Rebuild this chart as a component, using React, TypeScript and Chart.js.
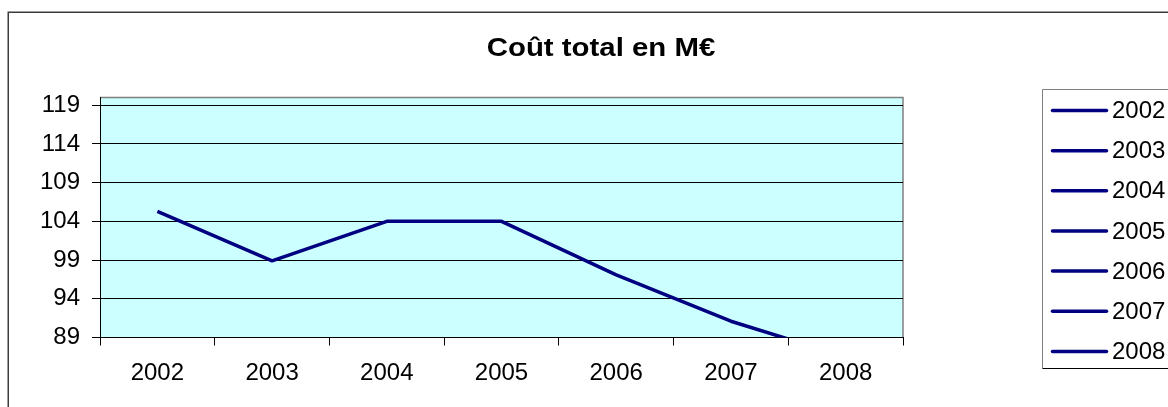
import React, { useEffect, useRef } from "react";
import { Chart, registerables } from "chart.js";

Chart.register(...registerables);

const categories = ["2002", "2003", "2004", "2005", "2006", "2007", "2008"];
const coutTotal = [105.3, 98.9, 104, 104, 97.1, 91.1, 86.5];
const yTickValues = [89, 94, 99, 104, 109, 114, 119];
const titleText = "Coût total en M€";

const FONT = '"Liberation Sans", Arial, sans-serif';
const LINE_COLOR = "#000080";

const decorPlugin = {
  id: "decor",
  beforeDraw(chart: any) {
    const { ctx, chartArea } = chart;
    ctx.save();
    // outer chart border
    ctx.strokeStyle = "#3c3c3c";
    ctx.lineWidth = 1.5;
    ctx.strokeRect(8.25, 12.25, 1400, 600);
    // plot area background
    ctx.fillStyle = "#CCFFFF";
    ctx.fillRect(chartArea.left, chartArea.top, chartArea.right - chartArea.left, chartArea.bottom - chartArea.top);
    // plot area top/right border (gray)
    ctx.strokeStyle = "#808080";
    ctx.lineWidth = 1.5;
    ctx.beginPath();
    ctx.moveTo(chartArea.left, chartArea.top);
    ctx.lineTo(chartArea.right, chartArea.top);
    ctx.lineTo(chartArea.right, chartArea.bottom);
    ctx.stroke();
    ctx.restore();
  },
  afterDraw(chart: any) {
    const { ctx } = chart;
    ctx.save();
    // title (slightly widened like the reference)
    ctx.save();
    ctx.translate(601, 49);
    ctx.scale(1.13, 1);
    ctx.fillStyle = "#000";
    ctx.font = `bold 26px ${FONT}`;
    ctx.textAlign = "center";
    ctx.textBaseline = "middle";
    ctx.fillText(titleText, 0, 0);
    ctx.restore();

    // legend box
    const boxLeft = 1042.5;
    const boxTop = 89.5;
    const boxBottom = 368.5;
    ctx.strokeStyle = "#808080";
    ctx.lineWidth = 1;
    ctx.beginPath();
    ctx.moveTo(1300, boxTop);
    ctx.lineTo(boxLeft, boxTop);
    ctx.lineTo(boxLeft, boxBottom);
    ctx.stroke();
    ctx.strokeStyle = "#000";
    ctx.beginPath();
    ctx.moveTo(boxLeft, boxBottom);
    ctx.lineTo(1300, boxBottom);
    ctx.stroke();

    const color = chart.data.datasets[0].borderColor;
    const labels = chart.data.labels as string[];
    ctx.font = `24px ${FONT}`;
    ctx.textAlign = "left";
    ctx.textBaseline = "middle";
    labels.forEach((lab, i) => {
      const y = 110.5 + i * 40.15;
      ctx.strokeStyle = color;
      ctx.lineWidth = 3.5;
      ctx.lineCap = "round";
      ctx.beginPath();
      ctx.moveTo(1052.5, y);
      ctx.lineTo(1106.5, y);
      ctx.stroke();
      ctx.fillStyle = "#000";
      ctx.fillText(lab, 1112, y + 1);
    });
    ctx.restore();
  },
};

export default function App() {
  const canvasRef = useRef<HTMLCanvasElement | null>(null);

  useEffect(() => {
    const canvas = canvasRef.current;
    if (!canvas) return;
    const chart = new Chart(canvas, {
      type: "line",
      data: {
        labels: categories,
        datasets: [
          {
            label: "Coût total",
            data: coutTotal,
            borderColor: LINE_COLOR,
            backgroundColor: LINE_COLOR,
            borderWidth: 3.5,
            pointRadius: 0,
            tension: 0,
            fill: false,
            borderJoinStyle: "round",
          },
        ],
      },
      options: {
        responsive: false,
        animation: false,
        events: [],
        layout: { padding: { left: 0, top: 97.5, right: 265, bottom: 0 } },
        plugins: {
          legend: { display: false },
          title: { display: false },
          tooltip: { enabled: false },
        },
        scales: {
          x: {
            type: "category",
            offset: true,
            grid: {
              offset: true,
              drawOnChartArea: false,
              drawTicks: true,
              tickLength: 8,
              color: "#000",
              lineWidth: 1,
            },
            border: { display: true, color: "#000", width: 1 },
            ticks: {
              color: "#000",
              font: { family: FONT, size: 24 },
              padding: 13,
              maxRotation: 0,
              autoSkip: false,
            },
            afterFit: (scale: any) => {
              scale.height = 69.5;
            },
          },
          y: {
            type: "linear",
            min: 89,
            max: 120,
            grid: {
              drawOnChartArea: true,
              drawTicks: true,
              tickLength: 8,
              color: "#000",
              lineWidth: 1,
            },
            border: { display: true, color: "#000", width: 1 },
            ticks: {
              color: "#000",
              font: { family: FONT, size: 24 },
              padding: 12,
            },
            afterBuildTicks: (scale: any) => {
              scale.ticks = yTickValues.map((v) => ({ value: v }));
            },
            afterFit: (scale: any) => {
              scale.width = 100;
            },
          },
        },
      },
      plugins: [decorPlugin],
    });
    return () => chart.destroy();
  }, []);

  return (
    <div style={{ position: "fixed", left: 0, top: 0, width: 1168, height: 407, background: "#fff" }}>
      <canvas ref={canvasRef} width={1168} height={407} style={{ display: "block", width: 1168, height: 407 }} />
    </div>
  );
}
